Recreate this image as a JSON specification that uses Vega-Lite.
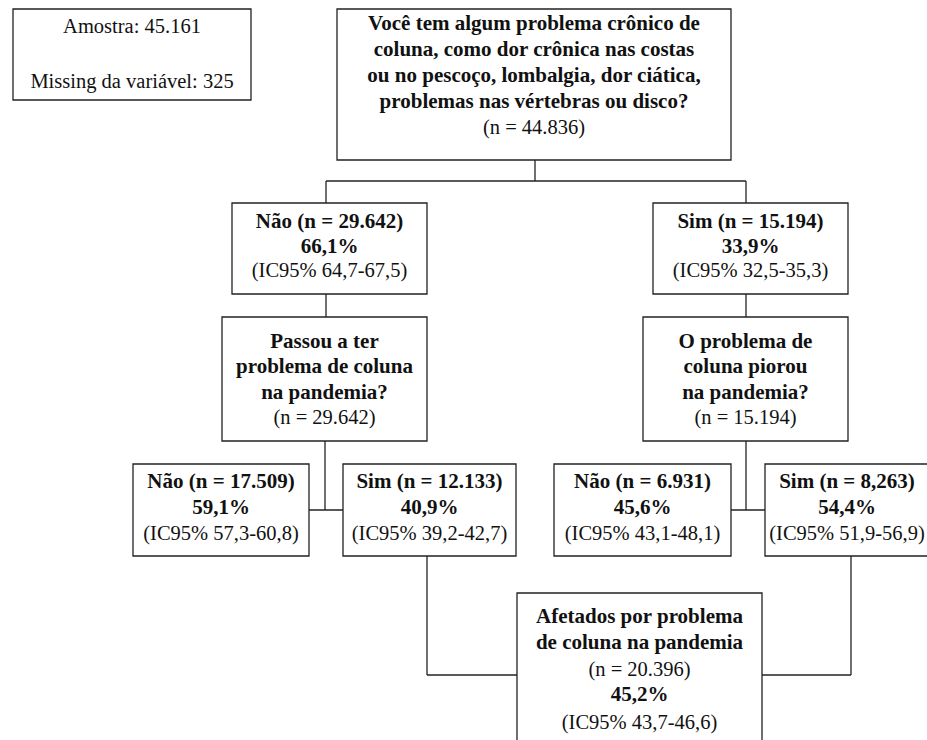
{
  "$schema": "https://vega.github.io/schema/vega-lite/v6.json",
  "width": 927,
  "height": 740,
  "padding": 0,
  "autosize": {"type": "none"},
  "background": "white",
  "config": {"view": {"stroke": null}},
  "datasets": {
    "boxes": [
      {"id": "amostra", "x": 13, "x2": 251, "y": 9, "y2": 100},
      {"id": "q1", "x": 337, "x2": 731, "y": 9, "y2": 160},
      {"id": "nao1", "x": 232, "x2": 427, "y": 203, "y2": 294},
      {"id": "sim1", "x": 653, "x2": 848, "y": 203, "y2": 294},
      {"id": "q2l", "x": 222, "x2": 427, "y": 317, "y2": 441},
      {"id": "q2r", "x": 643, "x2": 848, "y": 317, "y2": 441},
      {"id": "nao2l", "x": 133, "x2": 309, "y": 464, "y2": 556},
      {"id": "sim2l", "x": 343, "x2": 516, "y": 464, "y2": 556},
      {"id": "nao2r", "x": 554, "x2": 731, "y": 464, "y2": 556},
      {"id": "sim2r", "x": 765, "x2": 929, "y": 464, "y2": 556},
      {"id": "afetados", "x": 517, "x2": 762, "y": 593, "y2": 760}
    ],
    "links": [
      {"x": 535, "x2": 535, "y": 160, "y2": 181},
      {"x": 326, "x2": 746, "y": 181, "y2": 181},
      {"x": 326, "x2": 326, "y": 181, "y2": 203},
      {"x": 746, "x2": 746, "y": 181, "y2": 203},
      {"x": 326, "x2": 326, "y": 294, "y2": 317},
      {"x": 746, "x2": 746, "y": 294, "y2": 317},
      {"x": 325, "x2": 325, "y": 441, "y2": 510},
      {"x": 309, "x2": 343, "y": 510, "y2": 510},
      {"x": 746, "x2": 746, "y": 441, "y2": 510},
      {"x": 731, "x2": 765, "y": 510, "y2": 510},
      {"x": 427, "x2": 427, "y": 556, "y2": 675},
      {"x": 427, "x2": 517, "y": 675, "y2": 675},
      {"x": 851, "x2": 851, "y": 556, "y2": 675},
      {"x": 762, "x2": 851, "y": 675, "y2": 675}
    ],
    "labels": [
      {"x": 132, "y": 27, "kind": "detail", "text": "Amostra: 45.161"},
      {"x": 132, "y": 82, "kind": "detail", "text": "Missing da variável: 325"},
      {"x": 534, "y": 24, "kind": "heading", "text": "Você tem algum problema crônico de"},
      {"x": 534, "y": 50, "kind": "heading", "text": "coluna, como dor crônica nas costas"},
      {"x": 534, "y": 76, "kind": "heading", "text": "ou no pescoço, lombalgia, dor ciática,"},
      {"x": 534, "y": 102, "kind": "heading", "text": "problemas nas vértebras ou disco?"},
      {"x": 534, "y": 128, "kind": "detail", "text": "(n = 44.836)"},
      {"x": 329.5, "y": 222, "kind": "heading", "text": "Não (n = 29.642)"},
      {"x": 329.5, "y": 247, "kind": "heading", "text": "66,1%"},
      {"x": 329.5, "y": 271, "kind": "detail", "text": "(IC95% 64,7-67,5)"},
      {"x": 750.5, "y": 222, "kind": "heading", "text": "Sim (n = 15.194)"},
      {"x": 750.5, "y": 247, "kind": "heading", "text": "33,9%"},
      {"x": 750.5, "y": 271, "kind": "detail", "text": "(IC95% 32,5-35,3)"},
      {"x": 324.5, "y": 342, "kind": "heading", "text": "Passou a ter"},
      {"x": 324.5, "y": 367, "kind": "heading", "text": "problema de coluna"},
      {"x": 324.5, "y": 393, "kind": "heading", "text": "na pandemia?"},
      {"x": 324.5, "y": 418, "kind": "detail", "text": "(n = 29.642)"},
      {"x": 745.5, "y": 342, "kind": "heading", "text": "O problema de"},
      {"x": 745.5, "y": 367, "kind": "heading", "text": "coluna piorou"},
      {"x": 745.5, "y": 393, "kind": "heading", "text": "na pandemia?"},
      {"x": 745.5, "y": 418, "kind": "detail", "text": "(n = 15.194)"},
      {"x": 221, "y": 482, "kind": "heading", "text": "Não (n = 17.509)"},
      {"x": 221, "y": 508, "kind": "heading", "text": "59,1%"},
      {"x": 221, "y": 534, "kind": "detail", "text": "(IC95% 57,3-60,8)"},
      {"x": 429.5, "y": 482, "kind": "heading", "text": "Sim (n = 12.133)"},
      {"x": 429.5, "y": 508, "kind": "heading", "text": "40,9%"},
      {"x": 429.5, "y": 534, "kind": "detail", "text": "(IC95% 39,2-42,7)"},
      {"x": 642.5, "y": 482, "kind": "heading", "text": "Não (n = 6.931)"},
      {"x": 642.5, "y": 508, "kind": "heading", "text": "45,6%"},
      {"x": 642.5, "y": 534, "kind": "detail", "text": "(IC95% 43,1-48,1)"},
      {"x": 847, "y": 482, "kind": "heading", "text": "Sim (n = 8,263)"},
      {"x": 847, "y": 508, "kind": "heading", "text": "54,4%"},
      {"x": 847, "y": 534, "kind": "detail", "text": "(IC95% 51,9-56,9)"},
      {"x": 639.5, "y": 617, "kind": "heading", "text": "Afetados por problema"},
      {"x": 639.5, "y": 643, "kind": "heading", "text": "de coluna na pandemia"},
      {"x": 639.5, "y": 670, "kind": "detail", "text": "(n = 20.396)"},
      {"x": 639.5, "y": 695, "kind": "heading", "text": "45,2%"},
      {"x": 639.5, "y": 723, "kind": "detail", "text": "(IC95% 43,7-46,6)"}
    ]
  },
  "resolve": {"scale": {"x": "shared", "y": "shared"}},
  "layer": [
    {
      "data": {"name": "links"},
      "mark": {"type": "rule", "stroke": "#222222", "strokeWidth": 1.3},
      "encoding": {
        "x": {"field": "x", "type": "quantitative", "scale": {"domain": [0, 927], "nice": false, "zero": false}, "axis": null},
        "x2": {"field": "x2"},
        "y": {"field": "y", "type": "quantitative", "scale": {"domain": [0, 740], "reverse": true, "nice": false, "zero": false}, "axis": null},
        "y2": {"field": "y2"}
      }
    },
    {
      "data": {"name": "boxes"},
      "mark": {"type": "rect", "fill": "white", "stroke": "#222222", "strokeWidth": 1.3, "clip": true},
      "encoding": {
        "x": {"field": "x", "type": "quantitative", "axis": null},
        "x2": {"field": "x2"},
        "y": {"field": "y", "type": "quantitative", "axis": null},
        "y2": {"field": "y2"}
      }
    },
    {
      "data": {"name": "labels"},
      "transform": [{"filter": "datum.kind === 'heading'"}],
      "mark": {"type": "text", "font": "Liberation Serif", "fontSize": 21, "fontWeight": "bold", "align": "center", "baseline": "middle", "color": "#111111"},
      "encoding": {
        "x": {"field": "x", "type": "quantitative", "axis": null},
        "y": {"field": "y", "type": "quantitative", "axis": null},
        "text": {"field": "text", "type": "nominal"}
      }
    },
    {
      "data": {"name": "labels"},
      "transform": [{"filter": "datum.kind === 'detail'"}],
      "mark": {"type": "text", "font": "Liberation Serif", "fontSize": 20.5, "align": "center", "baseline": "middle", "color": "#111111"},
      "encoding": {
        "x": {"field": "x", "type": "quantitative", "axis": null},
        "y": {"field": "y", "type": "quantitative", "axis": null},
        "text": {"field": "text", "type": "nominal"}
      }
    }
  ]
}
